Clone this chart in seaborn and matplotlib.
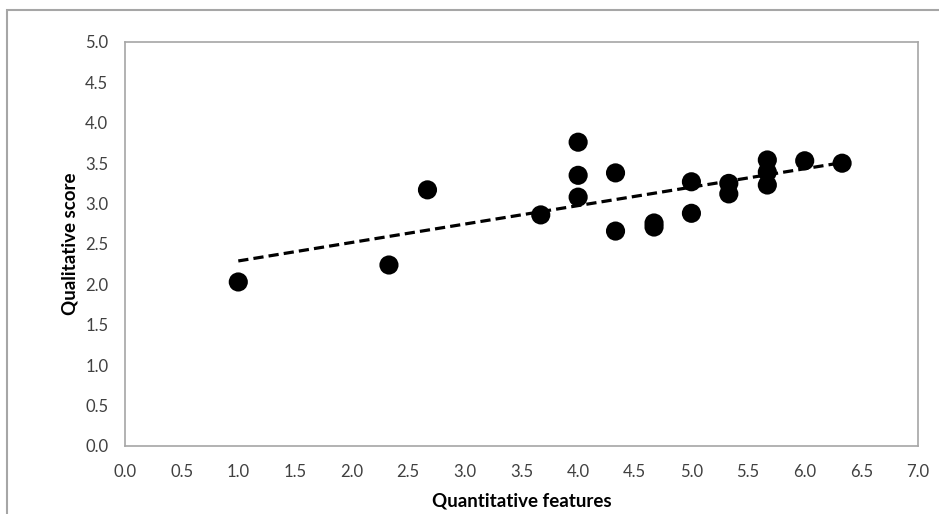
import numpy as np
import pandas as pd
import matplotlib
matplotlib.use("Agg")
import matplotlib.pyplot as plt
import seaborn as sns
from matplotlib.patches import Rectangle

###############################################################################
# Data
###############################################################################
quant_features = [1.00, 2.33, 2.67, 3.67, 4.00, 4.00, 4.00, 4.33, 4.33, 4.67,
                  4.67, 5.00, 5.00, 5.33, 5.33, 5.67, 5.67, 5.67, 6.00, 6.33]
qual_score = [2.03, 2.24, 3.17, 2.86, 3.76, 3.35, 3.08, 3.38, 2.66, 2.76,
              2.71, 3.27, 2.88, 3.25, 3.12, 3.54, 3.39, 3.23, 3.53, 3.50]

x_ticks = np.arange(0, 7.01, 0.5)
y_ticks = np.arange(0, 5.01, 0.5)

df = pd.DataFrame({'quant': quant_features, 'qual': qual_score})

###############################################################################
# Plot
###############################################################################
sns.set_style("white")
plt.rcParams['font.family'] = ['Lato', 'DejaVu Sans']

grey = '#a6a6a6'

fig = plt.figure(figsize=(9.39, 5.14), dpi=100)
ax = fig.add_axes([125 / 939, 68 / 514, (918 - 125) / 939, (446 - 42) / 514])

sns.regplot(data=df, x='quant', y='qual', ax=ax, ci=None, color='black',
            scatter_kws={'s': 190, 'edgecolor': 'none', 'alpha': 1, 'zorder': 3},
            line_kws={'linestyle': (0, (3.2, 1.6)), 'linewidth': 2.3, 'zorder': 4})

ax.set_xlim(0, 7)
ax.set_ylim(0, 5)
ax.set_xticks(x_ticks)
ax.set_yticks(y_ticks)
ax.set_xticklabels([f"{v:.1f}" for v in x_ticks])
ax.set_yticklabels([f"{v:.1f}" for v in y_ticks])

for side in ax.spines.values():
    side.set_visible(True)
    side.set_color(grey)
    side.set_linewidth(1.2)

ax.tick_params(axis='both', direction='out', length=4, width=1, color=grey,
               labelsize=12, labelcolor='#404040')
ax.tick_params(axis='x', pad=9)
ax.tick_params(axis='y', pad=8)
ax.grid(False)

ax.set_xlabel('Quantitative features', fontsize=13.5, fontweight='bold',
              color='black', labelpad=9)
ax.set_ylabel('Qualitative score', fontsize=13.5, fontweight='bold',
              color='black', labelpad=5)

# outer chart border (runs off the right and bottom edges)
fig.patches.append(Rectangle((7 / 939, -0.1), 1.5, 1.1 - 10 / 514,
                             transform=fig.transFigure, fill=False,
                             edgecolor=grey, linewidth=1.5))

fig.savefig('out.png', dpi=100)
